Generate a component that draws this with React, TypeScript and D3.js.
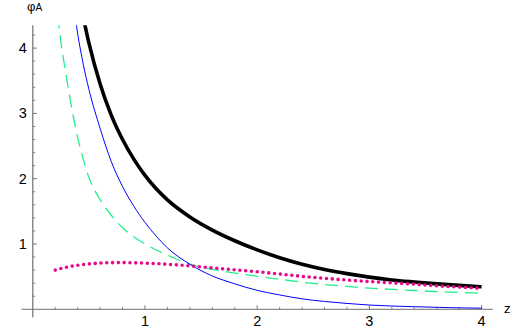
import React from 'react';
import * as d3 from 'd3';

// curve samples (z, phi_A)
const blackZ = [0.44, 0.5, 0.6, 0.7, 0.8, 0.9, 1.0, 1.1, 1.2, 1.4, 1.6, 1.8, 2.0, 2.2, 2.4, 2.6, 2.8, 3.0, 3.2, 3.4, 3.6, 3.8, 4.0];
const blackV = [4.55, 4.08, 3.45, 2.97, 2.6, 2.3, 2.05, 1.845, 1.675, 1.414, 1.213, 1.05, 0.91, 0.79, 0.69, 0.61, 0.546, 0.493, 0.45, 0.418, 0.389, 0.366, 0.345];

const blueZ = [0.38, 0.4, 0.45, 0.5, 0.6, 0.7, 0.8, 0.9, 1.0, 1.1, 1.2, 1.4, 1.6, 1.8, 2.0, 2.2, 2.4, 2.6, 2.8, 3.0, 3.2, 3.4, 3.6, 3.8, 4.0];
const blueV = [4.45, 4.22, 3.75, 3.37, 2.77, 2.26, 1.88, 1.58, 1.33, 1.12, 0.94, 0.69, 0.51, 0.39, 0.29, 0.22, 0.16, 0.12, 0.09, 0.065, 0.05, 0.04, 0.03, 0.022, 0.017];

const greenZ = [0.22, 0.25, 0.3, 0.35, 0.4, 0.45, 0.5, 0.6, 0.7, 0.8, 0.9, 1.0, 1.2, 1.4, 1.6, 1.8, 2.0, 2.2, 2.4, 2.6, 2.8, 3.0, 3.2, 3.4, 3.6, 3.8, 4.0];
const greenV = [4.5, 4.1, 3.55, 3.05, 2.63, 2.3, 2.02, 1.68, 1.44, 1.25, 1.11, 1.0, 0.83, 0.69, 0.61, 0.555, 0.505, 0.46, 0.415, 0.38, 0.35, 0.325, 0.305, 0.288, 0.272, 0.258, 0.245];

const pinkZ = [0.2, 0.3, 0.4, 0.5, 0.6, 0.7, 0.8, 0.9, 1.0, 1.2, 1.4, 1.6, 1.8, 2.0, 2.2, 2.4, 2.6, 2.8, 3.0, 3.2, 3.4, 3.6, 3.8, 4.0];
const pinkV = [0.6, 0.645, 0.675, 0.695, 0.708, 0.714, 0.715, 0.712, 0.706, 0.69, 0.665, 0.635, 0.605, 0.575, 0.54, 0.505, 0.475, 0.448, 0.425, 0.405, 0.385, 0.36, 0.34, 0.32];

const xMajor = [1, 2, 3, 4];
const yMajor = [1, 2, 3, 4];

const W = 532;
const H = 329;

const App = () => {
  const x = d3.scaleLinear().domain([0, 4]).range([32.8, 481.6]);
  const y = d3.scaleLinear().domain([0, 4]).range([309.3, 48.1]);
  const xMin = -0.1, xMax = 4.1, yMin = -0.12, yMax = 4.35;

  const xMinor = d3.range(0.2, 4.01, 0.2).filter(v => Math.abs(v - Math.round(v)) > 0.01);
  const yMinor = d3.range(0.2, 4.31, 0.2).filter(v => Math.abs(v - Math.round(v)) > 0.01);

  const line = d3.line<[number, number]>()
    .x(d => x(d[0]))
    .y(d => y(d[1]))
    .curve(d3.curveMonotoneX);

  const pts = (zs: number[], vs: number[]) => zs.map((z, i) => [z, vs[i]] as [number, number]);

  const axisColor = '#707070';
  const font = '"Liberation Sans", Arial, Helvetica, sans-serif';

  return (
    <div style={{ position: 'fixed', left: 0, top: 0 }}>
      <svg width={W} height={H} style={{ display: 'block', background: '#fff' }}>
        <defs>
          <clipPath id="plotclip">
            <rect x={x(xMin)} y={y(yMax)} width={x(xMax) - x(xMin)} height={y(yMin) - y(yMax)} />
          </clipPath>
        </defs>

        {/* axes */}
        <line x1={x(xMin)} x2={x(xMax)} y1={y(0)} y2={y(0)} stroke={axisColor} strokeWidth={1} />
        <line x1={x(0)} x2={x(0)} y1={y(yMin)} y2={y(yMax)} stroke={axisColor} strokeWidth={1.2} />

        {xMinor.map(v => (
          <line key={'xm' + v} x1={x(v)} x2={x(v)} y1={y(0)} y2={y(0) - 2.5} stroke={axisColor} strokeWidth={0.8} />
        ))}
        {xMajor.map(v => (
          <g key={'xM' + v}>
            <line x1={x(v)} x2={x(v)} y1={y(0)} y2={y(0) - 4} stroke={axisColor} strokeWidth={1} />
            <text x={x(v)} y={y(0) + 17} textAnchor="middle" fontFamily={font} fontSize={14.5} fill="#000">{v}</text>
          </g>
        ))}
        {yMinor.map(v => (
          <line key={'ym' + v} x1={x(0)} x2={x(0) + 2.5} y1={y(v)} y2={y(v)} stroke={axisColor} strokeWidth={0.8} />
        ))}
        {yMajor.map(v => (
          <g key={'yM' + v}>
            <line x1={x(0)} x2={x(0) + 4} y1={y(v)} y2={y(v)} stroke={axisColor} strokeWidth={1} />
            <text x={x(0) - 6} y={y(v) + 5} textAnchor="end" fontFamily={font} fontSize={14.5} fill="#000">{v}</text>
          </g>
        ))}

        {/* axis labels */}
        <text x={27} y={10.5} fontFamily={font} fontSize={13} fill="#000">
          φ<tspan fontSize={10}>A</tspan>
        </text>
        <text x={504} y={313} fontFamily={font} fontSize={13} fill="#000">z</text>

        {/* curves */}
        <g clipPath="url(#plotclip)" fill="none">
          <path d={line(pts(greenZ, greenV)) || ''} stroke="#1ef08c" strokeWidth={1.3} strokeDasharray="13 7" />
          <path d={line(pts(blueZ, blueV)) || ''} stroke="#0000ff" strokeWidth={1} />
          <path d={line(pts(blackZ, blackV)) || ''} stroke="#000" strokeWidth={3.6} />
          <path d={line(pts(pinkZ, pinkV)) || ''} stroke="#e8088a" strokeWidth={3.6} strokeDasharray="0 5.8" strokeLinecap="round" />
        </g>
      </svg>
    </div>
  );
};

export default App;
